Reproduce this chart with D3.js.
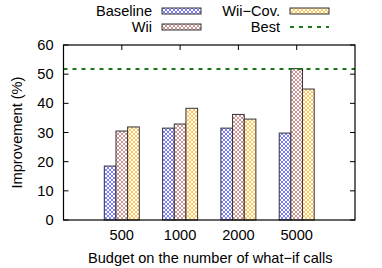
<!DOCTYPE html>
<html><head><meta charset="utf-8">
<script src="https://cdn.jsdelivr.net/npm/d3@7"></script>
<style>body{margin:0;background:#fff}svg{display:block}text{font-family:"Liberation Sans",Arial,sans-serif;fill:#000}</style>
</head><body>
<svg id="c" width="382" height="268"></svg>
<script>
const categories = ["500","1000","2000","5000"];
const seriesNames = ["Baseline","Wii","Wii\u2212Cov."];
const baseline = [18.5, 31.5, 31.5, 29.8];
const wii = [30.5, 32.9, 36.2, 51.9];
const wiiCov = [31.9, 38.3, 34.6, 44.9];
const best = 51.8;
const yTicks = [0,10,20,30,40,50,60];
const colors = ["#5a5aff","#c07878","#ffb833"];
const FS = 14.6;

const svg = d3.select("#c");
const L=63.5, R=355, T=45, B=220;
const x = d3.scaleLinear().domain([0,5]).range([L,R]);
const y = d3.scaleLinear().domain([0,60]).range([B,T]);
const series=[baseline,wii,wiiCov];

const defs = svg.append("defs");
colors.forEach((c,i)=>{
  const p = defs.append("pattern").attr("id","p"+i).attr("patternUnits","userSpaceOnUse")
    .attr("width",4).attr("height",4);
  p.append("rect").attr("width",4).attr("height",4).attr("fill","#fff");
  p.append("path").attr("d","M0,0L4,4M4,0L0,4").attr("stroke",c).attr("stroke-width",0.8);
});

const g = svg.append("g");
yTicks.forEach(t=>{
  g.append("line").attr("x1",L).attr("x2",L+5).attr("y1",y(t)).attr("y2",y(t)).attr("stroke","#000");
  g.append("line").attr("x1",R).attr("x2",R-5).attr("y1",y(t)).attr("y2",y(t)).attr("stroke","#000");
  g.append("text").attr("x",L-10).attr("y",y(t)).attr("dy","0.35em").attr("text-anchor","end").attr("font-size",FS).text(t);
});
categories.forEach((c,i)=>{
  const cx=x(i+1);
  g.append("line").attr("x1",cx).attr("x2",cx).attr("y1",T).attr("y2",T+5).attr("stroke","#000");
  g.append("line").attr("x1",cx).attr("x2",cx).attr("y1",B).attr("y2",B-5).attr("stroke","#000");
  g.append("text").attr("x",cx).attr("y",B+15).attr("dy","0.35em").attr("text-anchor","middle").attr("font-size",FS).text(c);
});

const bw = x(0.2)-x(0);
series.forEach((s,si)=>{
  svg.append("g").selectAll("rect").data(s).join("rect")
    .attr("x",(d,i)=>x(i+1)+(si-1.5)*bw)
    .attr("y",d=>y(d)).attr("width",bw).attr("height",d=>B-y(d))
    .attr("fill",`url(#p${si})`).attr("stroke","#333").attr("stroke-width",1);
});

svg.append("line").attr("x1",L).attr("x2",R).attr("y1",y(best)).attr("y2",y(best))
  .attr("stroke","#187818").attr("stroke-width",2).attr("stroke-dasharray","4,5");

svg.append("rect").attr("x",L).attr("y",T).attr("width",R-L).attr("height",B-T)
  .attr("fill","none").attr("stroke","#000").attr("stroke-width",1.2);

svg.append("text").attr("transform",`translate(17,${(T+B)/2}) rotate(-90)`).attr("dy","0.35em")
  .attr("text-anchor","middle").attr("font-size",FS).text("Improvement (%)");
svg.append("text").attr("x",(L+R)/2+1).attr("y",258).attr("dy","0.35em")
  .attr("text-anchor","middle").attr("font-size",FS).text("Budget on the number of what\u2212if calls");

const leg = [
  {name:seriesNames[0],x:152,y:11,type:"bar",i:0},
  {name:seriesNames[1],x:152,y:27,type:"bar",i:1},
  {name:seriesNames[2],x:280,y:11,type:"bar",i:2},
  {name:"Best",x:280,y:27,type:"line"}
];
leg.forEach(l=>{
  svg.append("text").attr("x",l.x).attr("y",l.y).attr("dy","0.35em").attr("text-anchor","end").attr("font-size",FS).text(l.name);
  if(l.type==="bar"){
    svg.append("rect").attr("x",l.x+10).attr("y",l.y-3).attr("width",39).attr("height",6)
      .attr("fill",`url(#p${l.i})`).attr("stroke","#333").attr("stroke-width",1);
  } else {
    svg.append("line").attr("x1",l.x+10).attr("x2",l.x+49).attr("y1",l.y).attr("y2",l.y)
      .attr("stroke","#187818").attr("stroke-width",2).attr("stroke-dasharray","4,5");
  }
});
</script>
</body></html>
